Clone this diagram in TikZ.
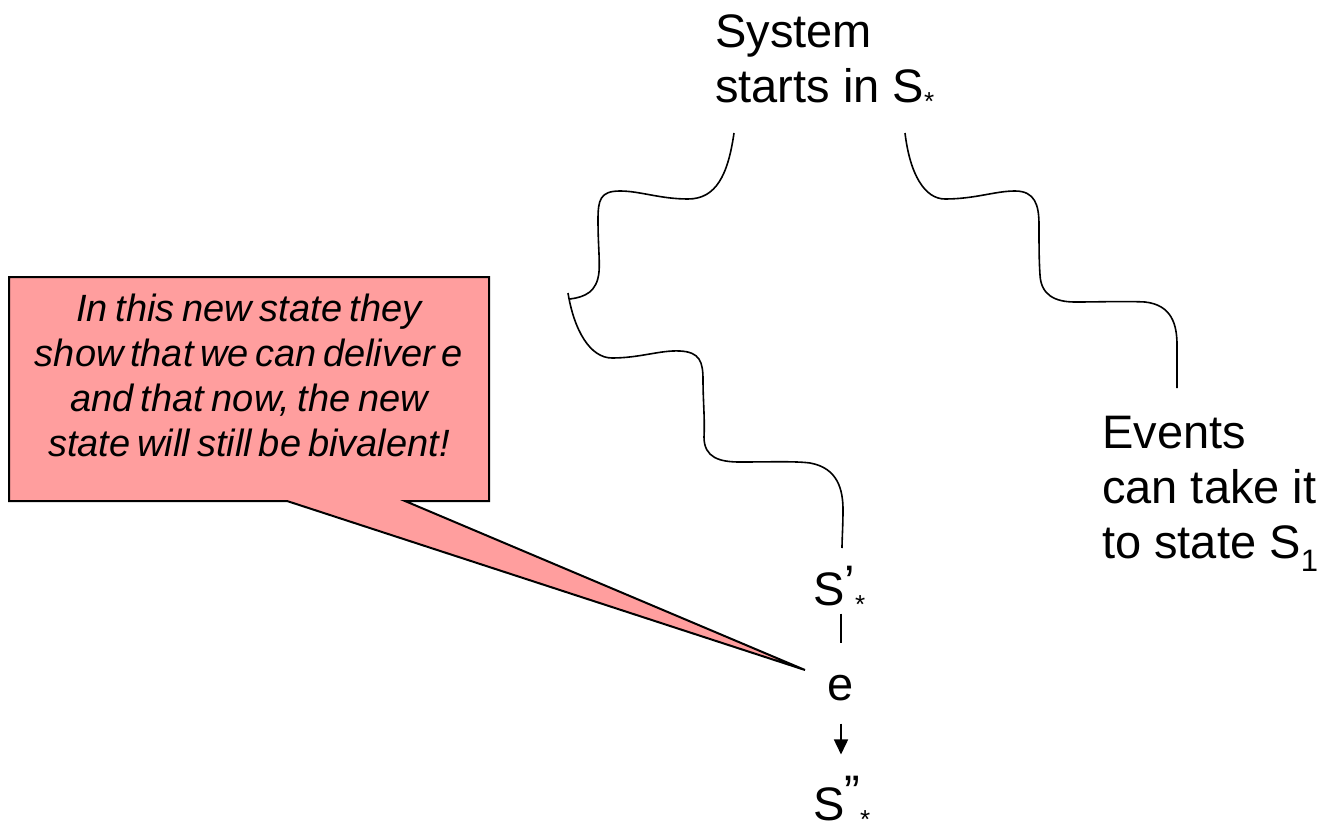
\documentclass[tikz,border=0pt]{standalone}
\usepackage{fontspec}
\setmainfont{Liberation Sans}
\usetikzlibrary{arrows.meta, positioning, backgrounds}

\definecolor{calloutpink}{RGB}{255,158,158}

% small lowered star and subscript one after S
\newcommand{\substar}{\raisebox{-8pt}[\height][0pt]{\fontsize{26}{26}\selectfont *}}
\newcommand{\subone}{\raisebox{-13pt}{\fontsize{31}{31}\selectfont 1}}
\newcommand{\tightsp}{\spaceskip=0.16em plus 0.05em\relax}

\begin{document}
\begin{tikzpicture}[
  x=1pt, y=-1pt,
  big/.style={font=\fontsize{47}{55}\selectfont, inner sep=0pt, align=left},
  note/.style={font=\fontsize{38}{45}\selectfont\itshape,
               align=center, text width=470pt, inner sep=0pt},
  wave/.style={line width=1.6pt},
  callout/.style={fill=calloutpink, draw=black, line width=2pt, line join=miter},
  arr/.style={-{Triangle[length=15pt, width=14pt]}, line width=1.6pt}
]
\useasboundingbox (0,0) rectangle (1325,832);

\node[big, anchor=north west] (start) at (715,14) {System\\starts in S\substar};
\node[big, anchor=north west] (events) at (1102,416) {Events\\can take it\\to state S\subone};
\node[big, anchor=base west] (sp) at (813,605) {S\raisebox{7pt}{'}\substar};
\node[big, anchor=base] (e) at (841,700) {e};
\node[big, anchor=base west] (spp) at (813,820) {S\raisebox{12pt}{''}\substar};
\node[note] (note) at (249,375)
  {\tightsp In this new state they\\show that we can deliver e\\and that now, the new\\state will still be bivalent!};
\coordinate (tip) at (805,670);

% callout box with its wedge
\begin{scope}[on background layer]
\draw[callout] (9,277) -- (489,277) -- (489,501) -- (405,501) -- (tip)
  -- (287,501) -- (9,501) -- cycle;
\end{scope}

% left path, upper half
\draw[wave] (734,133) .. controls (728,175) and (716,199) .. (688,199)
  .. controls (660,199) and (640,191) .. (620,191)
  .. controls (600,191) and (598,200) .. (598,220)
  .. controls (598,245) and (600,260) .. (599,272)
  .. controls (597,292) and (585,297) .. (570,299);
% left path, lower half
\draw[wave] (568,293) .. controls (574,330) and (590,358) .. (612,358)
  .. controls (640,358) and (660,350) .. (680,351)
  .. controls (700,352) and (703,362) .. (703,380)
  .. controls (703,400) and (705,420) .. (704,437)
  .. controls (704,458) and (720,462) .. (740,462)
  .. controls (770,462) and (795,461) .. (810,463)
  .. controls (838,468) and (843,490) .. (843,510)
  .. controls (843,525) and (842,540) .. (842,548);
% right path
\draw[wave] (905,133) .. controls (910,175) and (925,199) .. (945,199)
  .. controls (975,199) and (995,191) .. (1015,191)
  .. controls (1035,191) and (1039,205) .. (1039,225)
  .. controls (1039,245) and (1039,260) .. (1040,275)
  .. controls (1041,295) and (1055,302) .. (1075,302)
  .. controls (1100,302) and (1125,301) .. (1145,302)
  .. controls (1172,305) and (1177,325) .. (1177,345)
  .. controls (1177,365) and (1177,380) .. (1177,388);

\draw[wave, shorten <=8pt, shorten >=32pt] (sp.south -| e) -- (e.north);
\draw[arr, shorten <=23pt, shorten >=21pt] (e.south) -- (spp.north -| e);
\end{tikzpicture}
\end{document}
